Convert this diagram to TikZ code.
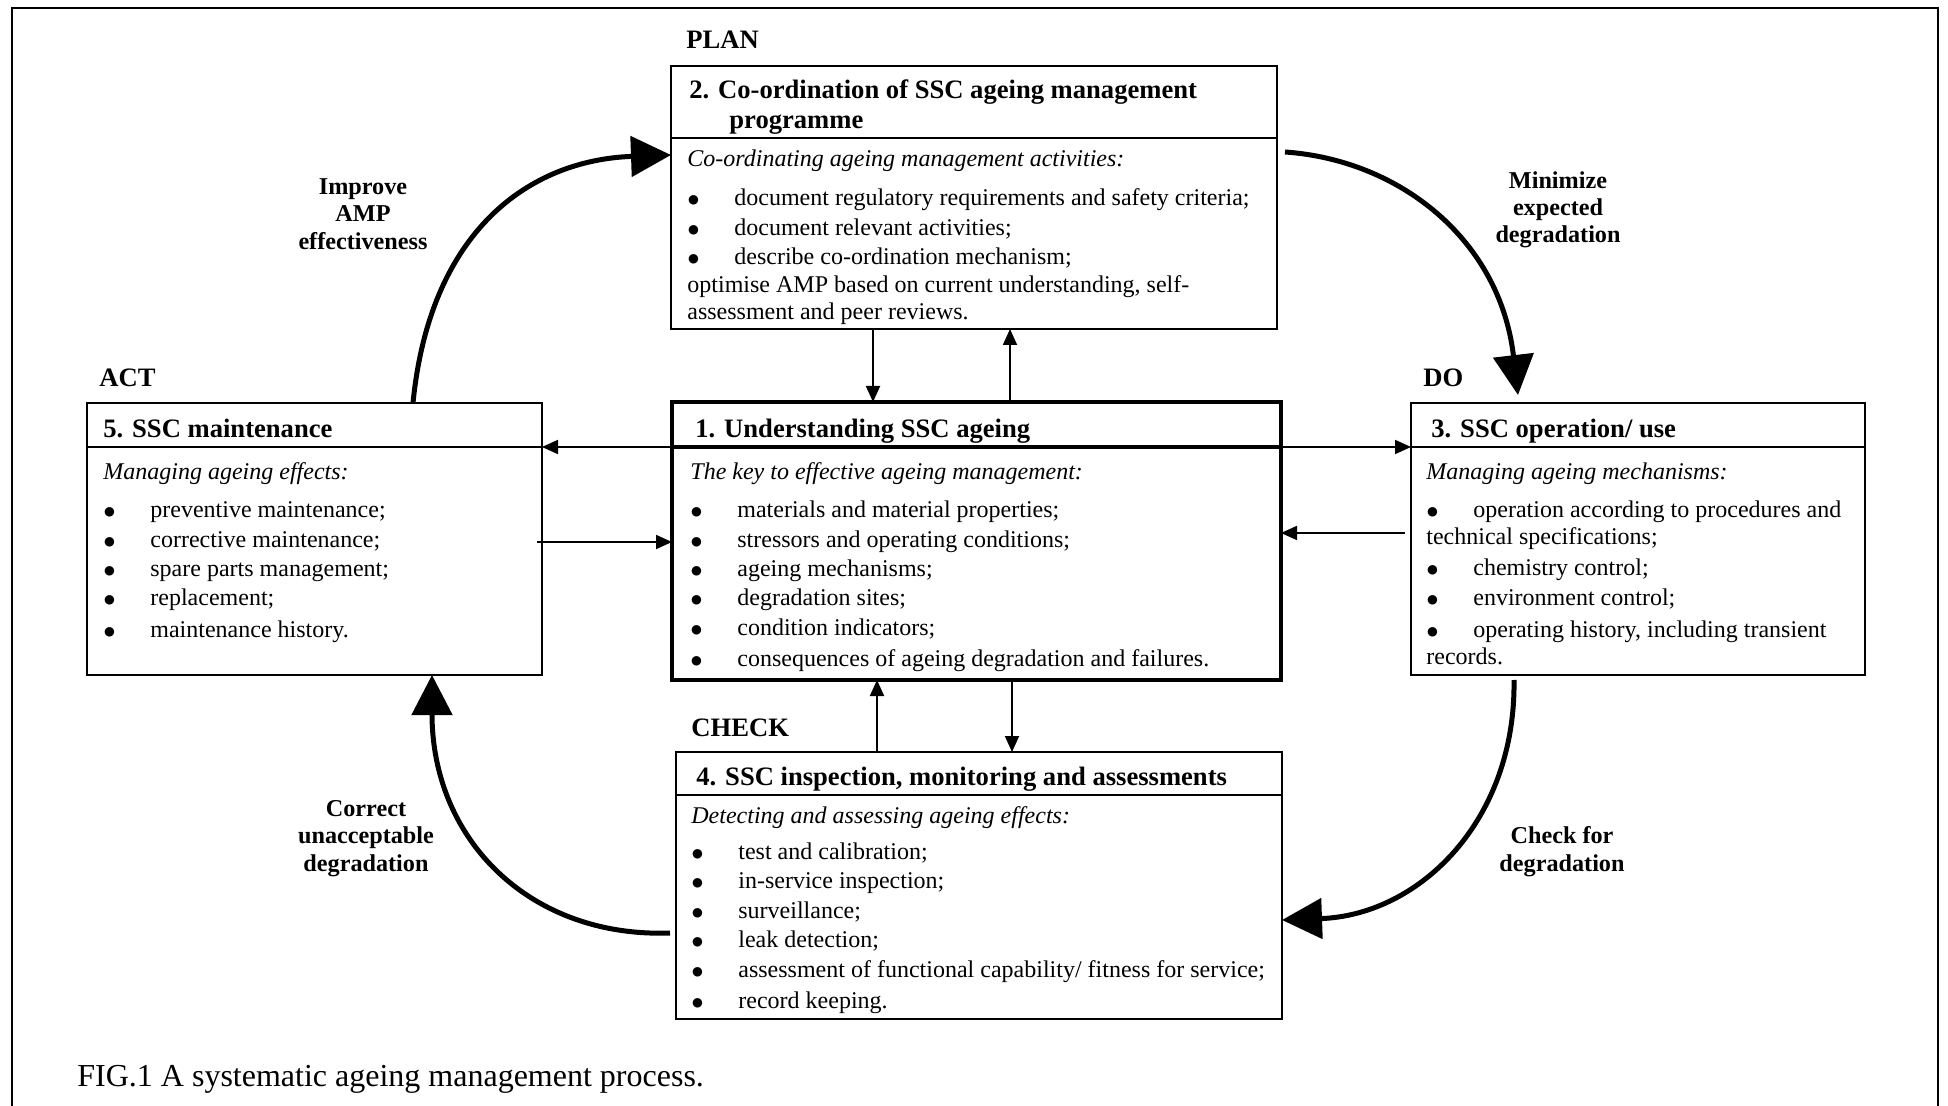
\documentclass[tikz,border=0pt]{standalone}
\usepackage{fontspec}
\setmainfont{Liberation Serif}
\newfontfamily\dejavu{DejaVu Sans}
\usetikzlibrary{arrows.meta}
\newcommand\bul[1]{\makebox[23.5pt][l]{\hspace{0.3pt}\raisebox{1pt}{\dejavu\fontsize{6.2}{8}\selectfont ●}}#1}
\begin{document}
\begin{tikzpicture}[x=0.5pt,y=-0.5pt,
  box/.style={draw,line width=1pt,anchor=north west,inner sep=0pt,outer sep=0pt},
  thickbox/.style={box,line width=2.2pt},
  body/.style={anchor=base west,inner sep=0pt,font=\fontsize{12}{14}\selectfont},
  head/.style={anchor=base west,inner sep=0pt,font=\fontsize{13.3}{15}\selectfont\bfseries},
  lbl/.style={anchor=base,inner sep=0pt,font=\fontsize{12.1}{14}\selectfont\bfseries},
  captxt/.style={anchor=base west,inner sep=0pt,font=\fontsize{16}{18}\selectfont},
  small/.style={line width=0.9pt,-{Triangle[length=8pt,width=7pt]}},
  big/.style={line width=2.5pt,-{Triangle[length=20pt,width=20pt]}},
]
\useasboundingbox (0,0) rectangle (1948,1106);
% outer frame
\draw[line width=1pt] (12,1112) -- (12,8) -- (1938,8) -- (1938,1112);

% boxes
\node[box,minimum width=303pt,minimum height=131.5pt] (b2) at (671,66) {};
\node[thickbox,minimum width=304.5pt,minimum height=139pt] (b1) at (672,402) {};
\node[box,minimum width=227.5pt,minimum height=136pt] (b5) at (87,403) {};
\node[box,minimum width=227pt,minimum height=136pt] (b3) at (1411,403) {};
\node[box,minimum width=303pt,minimum height=133.5pt] (b4) at (676,752) {};

% header dividers
\draw[line width=1pt] (671,138) -- (1277,138);
\draw[line width=2.2pt] (672,447) -- (1281,447);
\draw[line width=1pt] (87,447) -- (542,447);
\draw[line width=1pt] (1411,447) -- (1865,447);
\draw[line width=1pt] (676,795) -- (1282,795);

% phase labels
\node[head] (lplan) at (686,49) {PLAN};
\node[head] (lact) at (99,387) {ACT};
\node[head] (ldo) at (1423,387) {DO};
\node[head] (lcheck) at (691,736) {CHECK};

% box 2
\node[head] (h2a) at (689,99) {2. Co-ordination of SSC ageing management};
\node[head] (h2b) at (729,129) {programme};
\node[body] (t2a) at (687,167) {\itshape Co-ordinating ageing management activities:};
\node[body] (t2b) at (687,206) {\bul{document regulatory requirements and safety criteria;}};
\node[body] (t2c) at (687,236) {\bul{document relevant activities;}};
\node[body] (t2d) at (687,265) {\bul{describe co-ordination mechanism;}};
\node[body] (t2e) at (687,293) {optimise AMP based on current understanding, self-};
\node[body] (t2f) at (687,320) {assessment and peer reviews.};

% box 1
\node[head] (h1) at (695,438) {1. Understanding SSC ageing};
\node[body] (t1a) at (690,480) {\itshape The key to effective ageing management:};
\node[body] (t1b) at (690,517) {\bul{materials and material properties;}};
\node[body] (t1c) at (690,547) {\bul{stressors and operating conditions;}};
\node[body] (t1d) at (690,576) {\bul{ageing mechanisms;}};
\node[body] (t1e) at (690,605) {\bul{degradation sites;}};
\node[body] (t1f) at (690,635) {\bul{condition indicators;}};
\node[body] (t1g) at (690,666) {\bul{consequences of ageing degradation and failures.}};

% box 5
\node[head] (h5) at (103,438) {5. SSC maintenance};
\node[body] (t5a) at (103,480) {\itshape Managing ageing effects:};
\node[body] (t5b) at (103,517) {\bul{preventive maintenance;}};
\node[body] (t5c) at (103,547) {\bul{corrective maintenance;}};
\node[body] (t5d) at (103,576) {\bul{spare parts management;}};
\node[body] (t5e) at (103,605) {\bul{replacement;}};
\node[body] (t5f) at (103,637) {\bul{maintenance history.}};

% box 3
\node[head] (h3) at (1431,438) {3. SSC operation/ use};
\node[body] (t3a) at (1426,480) {\itshape Managing ageing mechanisms:};
\node[body] (t3b) at (1426,517) {\bul{operation according to procedures and}};
\node[body] (t3c) at (1426,545) {technical specifications;};
\node[body] (t3d) at (1426,575) {\bul{chemistry control;}};
\node[body] (t3e) at (1426,605) {\bul{environment control;}};
\node[body] (t3f) at (1426,637) {\bul{operating history, including transient}};
\node[body] (t3g) at (1426,664) {records.};

% box 4
\node[head] (h4) at (696,785) {4. SSC inspection, monitoring and assessments};
\node[body] (t4a) at (691,823) {\itshape Detecting and assessing ageing effects:};
\node[body] (t4b) at (691,859) {\bul{test and calibration;}};
\node[body] (t4c) at (691,888) {\bul{in-service inspection;}};
\node[body] (t4d) at (691,918) {\bul{surveillance;}};
\node[body] (t4e) at (691,947) {\bul{leak detection;}};
\node[body] (t4f) at (691,977) {\bul{assessment of functional capability/ fitness for service;}};
\node[body] (t4g) at (691,1008) {\bul{record keeping.}};

% cycle labels
\node[lbl] (imp1) at (363,195) {Improve};
\node[lbl] (imp2) at (363,222) {AMP};
\node[lbl] (imp3) at (363,250) {effectiveness};
\node[lbl] (min1) at (1558,189) {Minimize};
\node[lbl] (min2) at (1558,216) {expected};
\node[lbl] (min3) at (1558,243) {degradation};
\node[lbl] (cor1) at (366,816) {Correct};
\node[lbl] (cor2) at (366,843) {unacceptable};
\node[lbl] (cor3) at (366,871) {degradation};
\node[lbl] (chk1) at (1562,843) {Check for};
\node[lbl] (chk2) at (1562,871) {degradation};

% caption
\node[captxt] (caption) at (77,1086) {FIG.1 A systematic ageing management process.};

% helper coordinates
\coordinate (xA) at (873,0);
\coordinate (xB) at (1010,0);
\coordinate (xC) at (877,0);
\coordinate (xD) at (1012,0);
\coordinate (yH) at (0,447);
\coordinate (yL) at (0,542);
\coordinate (yR) at (0,533);

% straight connectors
\draw[small] (b2.south -| xA) -- (b1.north -| xA);
\draw[small] (b1.north -| xB) -- (b2.south -| xB);
\draw[small] (b4.north -| xC) -- (b1.south -| xC);
\draw[small] (b1.south -| xD) -- (b4.north -| xD);
\draw[small] (b1.west |- yH) -- (b5.east |- yH);
\draw[small] (b1.east |- yH) -- (b3.west |- yH);
\draw[small] ([xshift=-2.5pt]b5.east |- yL) -- (b1.west |- yL);
\draw[small] ([xshift=-3pt]b3.west |- yR) -- (b1.east |- yR);

% big cycle arrows
\coordinate (a0) at (413,0);
\coordinate (a1) at (0,155);
\draw[big] (b5.north -| a0) .. controls (430,230) and (530,160) .. (b2.west |- a1);
\coordinate (c0) at (0,152);
\coordinate (c1) at (1518,0);
\draw[big] ([xshift=4pt]b2.east |- c0) .. controls (1400,160) and (1500,240) .. ([yshift=4pt]b3.north -| c1);
\coordinate (d0) at (1514,0);
\coordinate (d1) at (0,920);
\draw[big] ([yshift=-2.5pt]b3.south -| d0) .. controls (1516,820) and (1420,915) .. (b4.east |- d1);
\coordinate (e0) at (0,933);
\coordinate (e1) at (432,0);
\draw[big] ([xshift=-3pt]b4.west |- e0) .. controls (530,938) and (432,840) .. (b5.south -| e1);
\end{tikzpicture}
\end{document}
